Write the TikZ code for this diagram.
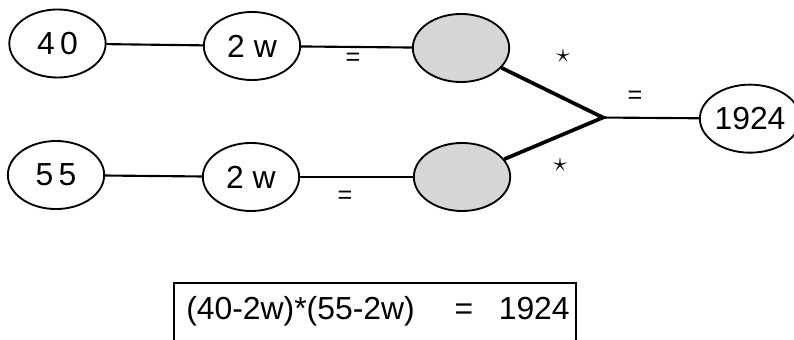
\documentclass[tikz,border=0pt]{standalone}
\usepackage{fontspec}
\setmainfont{Liberation Sans}
\usepackage{tikz}
\usetikzlibrary{shapes.geometric}

\tikzset{
  oval/.style={ellipse,draw,line width=1.4pt,minimum width=2.55cm,minimum height=1.8cm,inner sep=0pt,font=\fontsize{24}{28}\selectfont},
  dimmed/.style={oval,fill=black!16},
  link/.style={line width=1.6pt},
  joinlink/.style={line width=2.8pt,line join=miter},
  sign/.style={font=\fontsize{19}{22}\selectfont,inner sep=0pt},
  mark star/.style={font=\huge,inner sep=0pt},
}

\begin{document}
\begin{tikzpicture}
\useasboundingbox (0.000,0.000) rectangle (21.009,-8.996);
% upper row
\node[oval] (n40) at (1.521,-1.151) {4\,0};
\node[oval] (w1) at (6.668,-1.217) {2 w};
\node[dimmed] (s1) at (12.198,-1.270) {};
% lower row
\node[oval] (n55) at (1.482,-4.631) {5\,5};
\node[oval] (w2) at (6.641,-4.683) {2 w};
\node[dimmed] (s2) at (12.225,-4.683) {};
% result
\coordinate (j) at (15.955,-3.110);
\node[oval] (res) at (19.845,-3.140) {1924};
\draw[link] (n40) -- (w1);
\draw[link] (w1) -- (s1);
\draw[link] (n55) -- (w2);
\draw[link] (w2) -- (s2);
\draw[joinlink] (s1) -- (j) -- (s2);
\draw[link] (j) -- (res);
\node[sign] (eq1) at (9.340,-1.561) {=};
\node[sign] (eq2) at (9.129,-5.213) {=};
\node[sign] (eq3) at (16.802,-2.567) {=};
\node[mark star] (st1) at (14.897,-1.482) {$\star$};
\node[mark star] (st2) at (14.818,-4.366) {$\star$};
% equation box
\node[draw,line width=1.4pt,minimum width=10.637cm,text height=0.979cm,text depth=0.556cm,inner sep=0pt,font=\fontsize{24}{28}\selectfont] (eqn) at (9.923,-8.255) {\hspace{0.159cm}\makebox[7.104cm][l]{(40-2w)*(55-2w)}\makebox[1.164cm][l]{=}\makebox[1.879cm][r]{1924}\hspace{0.331cm}};
\end{tikzpicture}
\end{document}
